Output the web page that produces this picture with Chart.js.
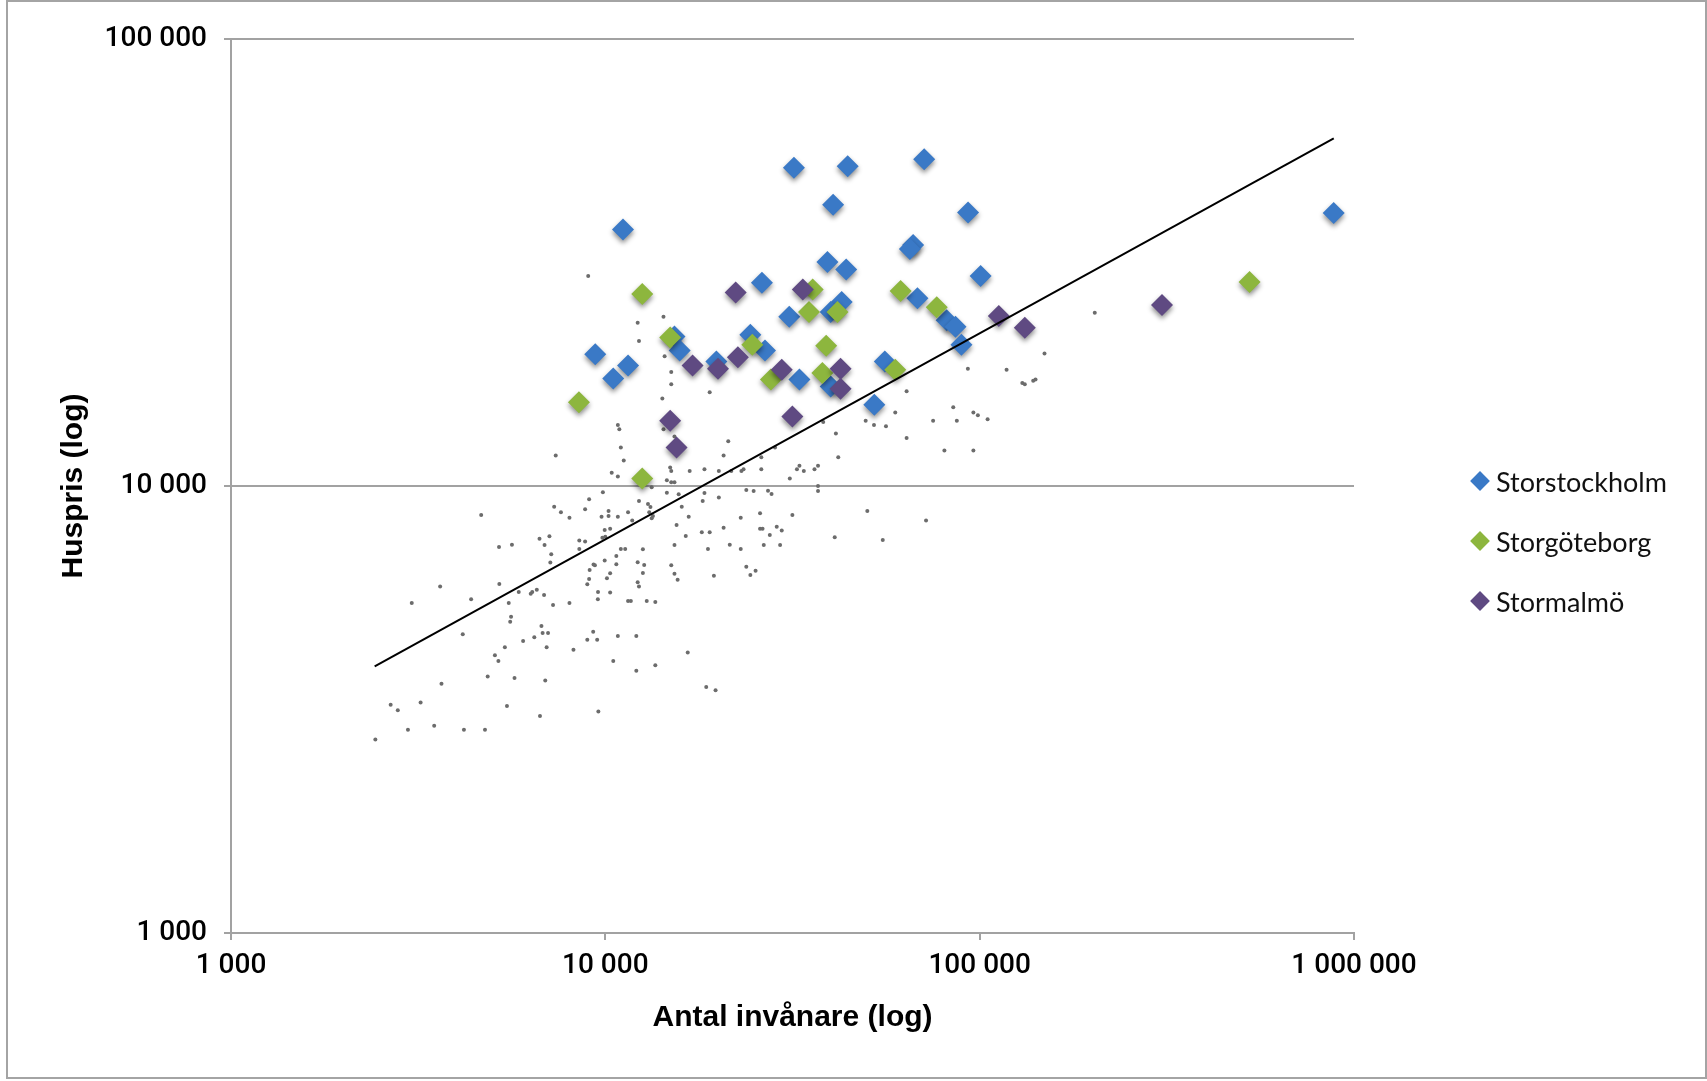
<!DOCTYPE html>
<html lang="sv">
<head>
<meta charset="UTF-8">
<title>Huspris mot antal invånare</title>
<script src="https://cdn.jsdelivr.net/npm/chart.js"></script>
<style>
  html, body { margin: 0; padding: 0; background: #fff; }
  .frame {
    position: absolute; left: 6px; top: 0; width: 1701px; height: 1079px;
    box-sizing: border-box; border: 2px solid #a4a4a4;
  }
  #chart { position: absolute; left: 0; top: 0; }
  .legend-item {
    position: absolute; left: 1470px; height: 40px;
    display: flex; align-items: center;
    font-family: Lato, sans-serif; font-size: 27px; color: #111;
  }
  .legend-item i {
    display: inline-block; width: 14px; height: 14px;
    margin-left: 3px; margin-right: 9px; transform: rotate(45deg);
  }
</style>
</head>
<body>
<div class="frame"></div>
<canvas id="chart" width="1707" height="1081"></canvas>
<div id="legend"></div>

<script>
// axis ticks
const xTicks = [1000, 10000, 100000, 1000000];
const yTicks = [1000, 10000, 100000];

// all other municipalities (grey dots)
const grayX = [
  9000,14300,12200,12300,14400,15000,15000,14200,19000,63800,
  93000,118000,130000,132000,139000,141000,149000,203000,10800,10900,
  11000,11200,7370,10400,10800,14900,15000,15300,15000,14300,
  15300,16800,18400,20100,21300,20700,21700,23100,23400,26100,
  26100,31100,32500,33000,33900,36200,37000,38200,41300,41900,
  37000,37000,49600,52200,56200,59500,63800,75100,85000,86900,
  96200,98900,105000,80500,96200,50100,55100,71900,41000,31600,
  25900,23800,24900,27200,27800,23000,25900,26300,28700,29600,
  27500,26500,29300,20700,21500,23000,18100,19000,18800,16400,
  15300,16700,16000,15500,14600,15700,13300,13000,13100,13400,
  13300,12600,12200,12700,12600,12200,12300,11500,11700,12900,
  13600,16600,18600,19700,19500,15000,15300,15600,23800,24400,
  25200,13600,12100,12100,10800,10500,9580,8220,9510,8950,
  9280,9560,9550,10300,8020,7250,6860,6380,6320,6560,
  5870,5520,5600,5570,6750,6800,7030,6460,6030,6970,
  5390,5070,5180,4160,4850,5720,6910,5460,6690,3650,
  4380,3620,3040,5210,4660,5200,5630,6670,7090,6880,
  7170,7130,7300,7610,8020,8830,9050,9850,9770,10200,
  10800,10200,11500,12300,11800,8520,8830,8520,9960,10300,
  10000,9820,11000,11300,10700,10700,9960,9300,9380,9080,
  9050,8950,10300,10100,2670,2790,3210,2970,3490,4190,
  4770,2430,18400,18200,20100,28400,13200,14600
];
const grayY = [
  29500,23900,23200,21100,19500,18000,16900,15700,16200,16300,
  18300,18200,17000,16900,17200,17300,19800,24400,13700,13400,
  12200,11400,11700,10700,10500,11000,10800,10200,10200,13400,
  12900,10800,10900,10800,12600,11700,10800,10800,10900,11600,
  10900,10400,10900,11100,10800,10900,11100,13900,13100,11600,
  10000,9750,14000,13700,13600,14600,12800,14000,15000,14000,
  14600,14400,14100,12000,12000,8790,7570,8370,7680,8610,
  8690,9800,9750,9760,9600,8490,8020,8020,8110,7950,
  7770,7380,7380,8070,7390,7230,7880,7880,7230,7730,
  7380,8540,8990,8180,9660,9580,9930,9120,8730,8570,
  8470,7220,6750,6660,6390,6090,5960,5530,5530,5530,
  5500,4240,3550,3490,6300,6650,6360,6170,6600,6320,
  6460,3970,3860,4620,4620,4060,3130,4300,4530,4530,
  4720,5790,5580,5780,5470,5420,5700,5790,5740,5860,
  5790,5470,5100,4970,4860,4690,4690,4590,4500,4360,
  4360,4180,4060,4660,3750,3720,3670,3220,3060,3610,
  5580,5960,5470,6040,8610,7300,7390,7620,7720,7380,
  7040,6740,8990,8730,8490,8870,9340,9680,8540,8570,
  8540,8790,8730,9260,8370,7550,7510,7230,7970,8020,
  7700,7660,7230,7230,6970,6680,6810,6670,6650,6490,
  6190,6030,6380,6220,3240,3150,3280,2850,2910,2850,
  2850,2710,9650,9260,9420,12200,8980,10300
];

// Storstockholm
const sthlmX = [31900,44400,71100,40600,93100,11150,66400,65100,39200,44000,
  100600,26200,68200,42800,40000,31000,81600,86200,89400,15300,
  15800,24400,26700,9400,11500,10500,19800,33000,40000,55800,
  52300,882500];
const sthlmY = [51500,51900,53800,42600,40900,37500,34600,33900,31700,30500,
  29500,28500,26300,25800,24500,23900,23500,22700,20700,21600,
  20100,21800,20100,19700,18600,17400,19000,17300,16700,19000,
  15200,40800];

// Storgöteborg
const gbgX = [12550,8500,12550,14900,24700,27700,35800,35000,41700,38900,38000,61500,76800,59500,526000];
const gbgY = [26900,15400,10400,21500,20700,17300,27500,24500,24500,20600,17900,27300,25100,18200,28600];

// Stormalmö
const mmoX = [22300,33700,17100,20000,22600,29600,42500,42500,14900,15500,31600,112500,132000,307000];
const mmoY = [27100,27500,18600,18300,19400,18200,18300,16500,14000,12200,14300,24000,22600,25400];

// trend line end points
const trendX = [2420, 883000];
const trendY = [3950, 59900];

const seriesNames = ['Storstockholm', 'Storgöteborg', 'Stormalmö'];
const seriesColors = ['#3a79c6', '#8db63e', '#5f4a82'];

const pts = (xs, ys) => xs.map((x, i) => ({ x: x, y: ys[i] }));
const fmt = v => String(v).replace(/\B(?=(\d{3})+(?!\d))/g, ' ');

const gridColor = '#a2a2a2';
const tickFont = { family: "Roboto, 'Liberation Sans', sans-serif", size: 28, weight: '500' };
const titleFont = { family: "'Liberation Sans', Arial, sans-serif", size: 30, weight: 'bold' };

// drop shadow under the diamonds, like the original
const shadowPlugin = {
  id: 'markerShadow',
  beforeDatasetDraw(chart, args) {
    if (!chart.data.datasets[args.index].shadow) return;
    const ctx = chart.ctx;
    ctx.save();
    ctx.shadowColor = 'rgba(0,0,0,0.45)';
    ctx.shadowBlur = 5;
    ctx.shadowOffsetX = 0;
    ctx.shadowOffsetY = 3;
  },
  afterDatasetDraw(chart, args) {
    if (chart.data.datasets[args.index].shadow) chart.ctx.restore();
  }
};

const diamond = (i, xs, ys, order) => ({
  label: seriesNames[i],
  data: pts(xs, ys),
  pointStyle: 'rectRot',
  pointRadius: 11,
  pointBorderWidth: 0,
  backgroundColor: seriesColors[i],
  borderColor: seriesColors[i],
  shadow: true,
  order: order
});

new Chart(document.getElementById('chart'), {
  type: 'scatter',
  data: {
    datasets: [
      {
        label: 'Trend',
        type: 'line',
        data: pts(trendX, trendY),
        borderColor: '#000',
        borderWidth: 2,
        pointRadius: 0,
        fill: false,
        order: 0
      },
      diamond(2, mmoX, mmoY, 1),
      diamond(1, gbgX, gbgY, 2),
      diamond(0, sthlmX, sthlmY, 3),
      {
        label: 'Övriga',
        data: pts(grayX, grayY),
        pointRadius: 2,
        pointBorderWidth: 0,
        backgroundColor: '#6c6c6c',
        borderColor: '#6c6c6c',
        order: 4
      }
    ]
  },
  options: {
    responsive: false,
    animation: false,
    layout: { padding: { left: 40, top: 39, right: 353, bottom: 31 } },
    plugins: { legend: { display: false }, tooltip: { enabled: false } },
    scales: {
      x: {
        type: 'logarithmic',
        min: 1000,
        max: 1000000,
        afterBuildTicks: s => { s.ticks = xTicks.map(v => ({ value: v })); },
        afterFit: s => { s.height = 117; },
        ticks: { callback: fmt, color: '#000', padding: 9, maxRotation: 0, autoSkip: false, font: tickFont },
        grid: { drawOnChartArea: false, drawTicks: true, tickLength: 7, color: gridColor, lineWidth: 2 },
        border: { display: true, color: gridColor, width: 2 },
        title: { display: true, text: 'Antal invånare (log)', color: '#000',
                 font: titleFont, padding: { top: 0, bottom: 14 } }
      },
      y: {
        type: 'logarithmic',
        min: 1000,
        max: 100000,
        afterBuildTicks: s => { s.ticks = yTicks.map(v => ({ value: v })); },
        afterFit: s => { s.width = 191; },
        ticks: { callback: fmt, color: '#000', padding: 17, autoSkip: false, font: tickFont },
        grid: { drawTicks: true, tickLength: 7, color: gridColor, lineWidth: 2 },
        border: { display: true, color: gridColor, width: 2 },
        title: { display: true, text: 'Huspris (log)', color: '#000',
                 font: titleFont, padding: { top: 16, bottom: 0 } }
      }
    }
  },
  plugins: [shadowPlugin]
});

// legend at the right, same order as the original
const legend = document.getElementById('legend');
seriesNames.forEach((name, i) => {
  const item = document.createElement('div');
  item.className = 'legend-item';
  item.style.top = (461 + i * 60) + 'px';
  const mark = document.createElement('i');
  mark.style.background = seriesColors[i];
  item.appendChild(mark);
  item.appendChild(document.createTextNode(name));
  legend.appendChild(item);
});
</script>
</body>
</html>
